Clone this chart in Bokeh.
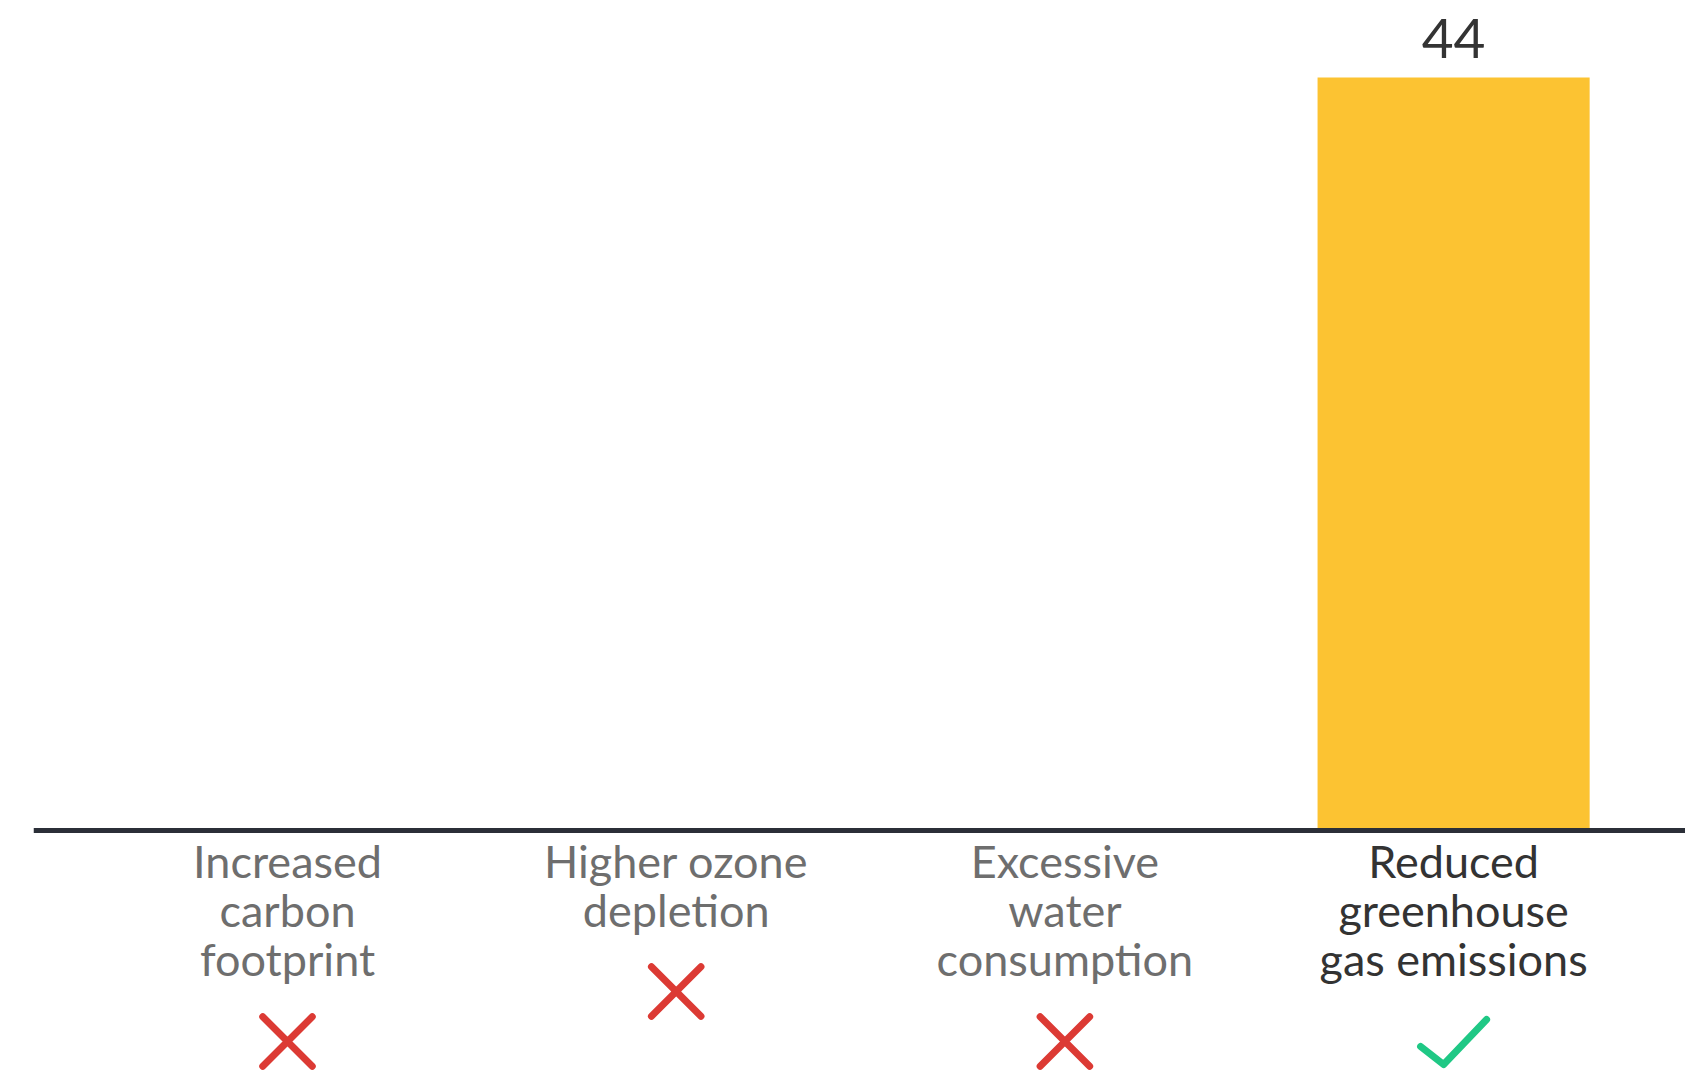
from bokeh.plotting import figure
from bokeh.models import ColumnDataSource, Range1d, Span
from bokeh.core.properties import value
from bokeh.embed import file_html
from bokeh.resources import INLINE

# ---- data ----
categories = ["Increased carbon footprint", "Higher ozone depletion",
              "Excessive water consumption", "Reduced greenhouse gas emissions"]
label_lines = [["Increased", "carbon", "footprint"],
               ["Higher ozone", "depletion"],
               ["Excessive", "water", "consumption"],
               ["Reduced", "greenhouse", "gas emissions"]]
values = [0, 0, 0, 44]
is_correct = [False, False, False, True]

# ---- layout constants ----
W, H = 1685, 1077
LEFT = 33
AXIS_PX = 830          # axis line position from top
VMAX_PX = 77           # pixel of the top of a 44 bar
PPU = (AXIS_PX - VMAX_PX) / 44.0
CAT_PX = 388.7
CAT0_PX = 287
FONT = "Lato"
TEXT_SHIFT = -17       # correction for text baseline rendering

x_start = (LEFT - CAT0_PX) / CAT_PX
x_end = (W - CAT0_PX) / CAT_PX
y_end = AXIS_PX / PPU
y_start = -(H - AXIS_PX) / PPU

p = figure(width=W, height=H, output_backend="svg", toolbar_location=None,
           x_range=Range1d(x_start, x_end), y_range=Range1d(y_start, y_end),
           min_border_left=LEFT, min_border_right=0, min_border_top=0, min_border_bottom=0)
p.axis.visible = False
p.grid.visible = False
p.outline_line_color = None
p.background_fill_color = "white"
p.border_fill_color = "white"

xs = list(range(len(categories)))

bars = ColumnDataSource(dict(x=xs, top=values))
p.vbar(x="x", top="top", bottom=0, width=0.70, source=bars,
       fill_color="#FCC332", line_color=None)

# value labels (only non-zero)
vx = [x for x, v in zip(xs, values) if v > 0]
vv = [v for v in values if v > 0]
p.text(x=vx, y=vv, text=[str(v) for v in vv], text_align="center",
       text_baseline="alphabetic", y_offset=-22 + TEXT_SHIFT, text_font=value(FONT),
       text_font_size="55px", text_color="#333333")

# baseline
p.add_layout(Span(location=0, dimension="width", line_color="#2b2f38", line_width=5))

# category labels
lx, ly, lt, lo, lc = [], [], [], [], []
for i, lines in enumerate(label_lines):
    for k, t in enumerate(lines):
        lx.append(i); ly.append(0); lt.append(t)
        lo.append(47 + 49 * k + TEXT_SHIFT)
        lc.append("#333333" if is_correct[i] else "#6e6e6e")
p.text(x=lx, y=ly, text=lt, y_offset=lo, text_color=lc, text_align="center",
       text_baseline="alphabetic", text_font=value(FONT), text_font_size="45px")

# icons under labels
def icon_y(i):
    return -(47 + 50 * (len(label_lines[i]) - 1) + 64) / PPU

cx = [i for i in xs if not is_correct[i]]
cy = [icon_y(i) for i in cx]
p.scatter(x=cx, y=cy, marker="x", size=70, line_color="#DC3A34", line_width=7,
          line_cap="round")

ok = [i for i in xs if is_correct[i]]
dx = 1.0 / CAT_PX
dy = 1.0 / PPU
mx, my = [], []
for i in ok:
    yc = icon_y(i)
    mx.append([i - 33 * dx, i - 10 * dx, i + 33 * dx])
    my.append([yc - 5 * dy, yc - 23 * dy, yc + 22 * dy])
p.multi_line(xs=mx, ys=my, line_color="#1FC885", line_width=7,
             line_cap="round", line_join="round")

open("out.html", "w").write(file_html(p, INLINE))
